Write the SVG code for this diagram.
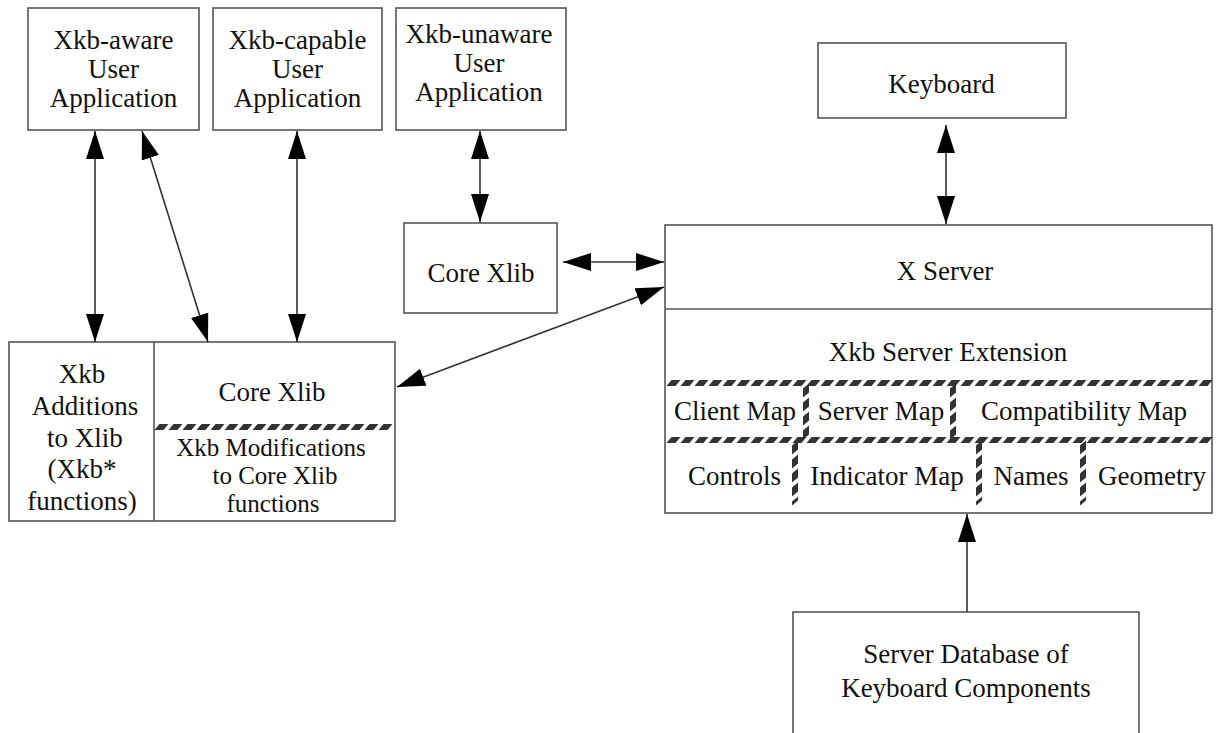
<svg xmlns="http://www.w3.org/2000/svg" width="1221" height="733" viewBox="0 0 1221 733">
<style>
.box{fill:#fff;stroke:#555;stroke-width:1.6}
.sep{stroke:#555;stroke-width:1.6;fill:none}
text{font-family:"Liberation Serif","Times New Roman",serif;font-size:27px;fill:#111;text-anchor:middle}
text.sm{font-size:25px}
.conn line{stroke:#333;stroke-width:1.6}
.hatch{stroke:#333;stroke-width:6;stroke-dasharray:9 5;fill:none}
</style>
<defs>
<marker id="ah" markerUnits="userSpaceOnUse" markerWidth="28" markerHeight="18" refX="28" refY="9" orient="auto-start-reverse" viewBox="0 0 28 18">
<path d="M0,0 L28,9 L0,18 z" fill="#000"/>
</marker>
</defs>
<rect width="1221" height="733" fill="#fff"/>

<g id="xkb-aware">
<rect class="box" x="28" y="8" width="171" height="122"/>
<text x="113.5" y="49">Xkb-aware</text>
<text x="113.5" y="78">User</text>
<text x="113.5" y="107">Application</text>
</g>
<g id="xkb-capable">
<rect class="box" x="213" y="8" width="169" height="122"/>
<text x="297.5" y="49">Xkb-capable</text>
<text x="297.5" y="78">User</text>
<text x="297.5" y="107">Application</text>
</g>
<g id="xkb-unaware">
<rect class="box" x="396" y="8" width="170" height="122"/>
<text x="479" y="43">Xkb-unaware</text>
<text x="479" y="72">User</text>
<text x="479" y="101">Application</text>
</g>
<g id="keyboard">
<rect class="box" x="818" y="43" width="248" height="75"/>
<text x="941.5" y="93">Keyboard</text>
</g>
<g id="core-xlib-top">
<rect class="box" x="404" y="223" width="153" height="90"/>
<text x="481" y="282">Core Xlib</text>
</g>
<g id="xlib-stack">
<rect class="box" x="9" y="342" width="386" height="179"/>
<line class="sep" x1="154" y1="342" x2="154" y2="521"/>
<text x="82" y="383">Xkb</text>
<text x="85" y="415">Additions</text>
<text x="85" y="447">to Xlib</text>
<text x="82" y="478">(Xkb*</text>
<text x="82" y="510">functions)</text>
<text x="272" y="401">Core Xlib</text>
<g transform="translate(0,427) skewX(-40)"><line class="hatch" x1="157" y1="0" x2="392" y2="0"/></g>
<text class="sm" x="271" y="456">Xkb Modifications</text>
<text class="sm" x="275" y="484">to Core Xlib</text>
<text class="sm" x="273" y="512">functions</text>
</g>
<g id="x-server">
<rect class="box" x="665" y="225" width="547" height="288"/>
<text x="945" y="280">X Server</text>
<line class="sep" x1="665" y1="309" x2="1212" y2="309"/>
<text x="948" y="361">Xkb Server Extension</text>
<g transform="translate(0,383) skewX(-40)"><line class="hatch" x1="669" y1="0" x2="1210" y2="0"/></g>
<g transform="translate(0,440) skewX(-40)"><line class="hatch" x1="669" y1="0" x2="1210" y2="0"/></g>
<g transform="translate(806,0) skewY(-40)"><line class="hatch" x1="0" y1="386" x2="0" y2="440"/></g>
<g transform="translate(953,0) skewY(-40)"><line class="hatch" x1="0" y1="386" x2="0" y2="440"/></g>
<g transform="translate(795,0) skewY(-40)"><line class="hatch" x1="0" y1="443" x2="0" y2="503"/></g>
<g transform="translate(979,0) skewY(-40)"><line class="hatch" x1="0" y1="443" x2="0" y2="503"/></g>
<g transform="translate(1083,0) skewY(-40)"><line class="hatch" x1="0" y1="443" x2="0" y2="503"/></g>
<text x="735" y="420">Client Map</text>
<text x="881" y="420">Server Map</text>
<text x="1084" y="420">Compatibility Map</text>
<text x="734.5" y="485">Controls</text>
<text x="887" y="485">Indicator Map</text>
<text x="1031" y="485">Names</text>
<text x="1152" y="485">Geometry</text>
</g>
<g id="server-db">
<rect class="box" x="793" y="612" width="346" height="140"/>
<text x="966" y="663">Server Database of</text>
<text x="966" y="697">Keyboard Components</text>
</g>

<g id="connectors" class="conn">
<line x1="95" y1="131" x2="95" y2="342" marker-start="url(#ah)" marker-end="url(#ah)"/>
<line x1="142" y1="131" x2="208" y2="342" marker-start="url(#ah)" marker-end="url(#ah)"/>
<line x1="297" y1="131" x2="297" y2="342" marker-start="url(#ah)" marker-end="url(#ah)"/>
<line x1="480" y1="131" x2="480" y2="222" marker-start="url(#ah)" marker-end="url(#ah)"/>
<line x1="563" y1="262" x2="664" y2="262" marker-start="url(#ah)" marker-end="url(#ah)"/>
<line x1="397" y1="387" x2="664" y2="287" marker-start="url(#ah)" marker-end="url(#ah)"/>
<line x1="946" y1="125" x2="946" y2="224" marker-start="url(#ah)" marker-end="url(#ah)"/>
<line x1="967" y1="612" x2="967" y2="514" marker-end="url(#ah)"/>
</g>
</svg>
